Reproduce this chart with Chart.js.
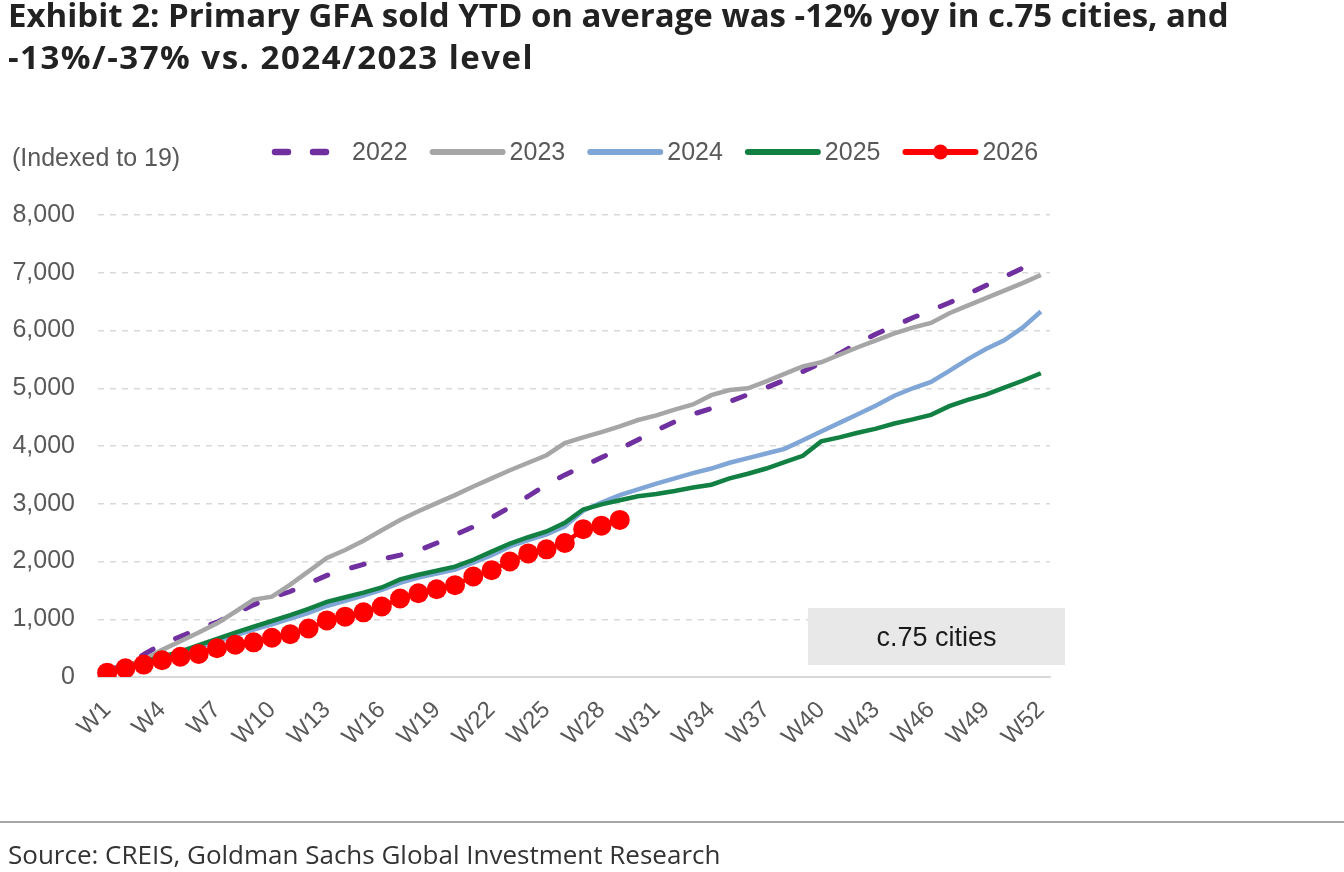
<!DOCTYPE html>
<html>
<head>
<meta charset="utf-8">
<script src="https://cdn.jsdelivr.net/npm/chart.js@4.4.1/dist/chart.umd.min.js"></script>
<style>
  html, body { margin: 0; padding: 0; background: #fff; }
  body { width: 1344px; height: 872px; position: relative; overflow: hidden; }
  #title {
    position: absolute; left: 8px; top: -6px;
    font-family: "Open Sans", sans-serif; font-weight: 700; font-size: 33px;
    line-height: 42px; color: #222; white-space: nowrap;
  }
  #title .l2 { letter-spacing: 1.5px; }
  #rule { position: absolute; left: 0; top: 821px; width: 1344px; height: 2px; background: #a6a6a6; }
  #source {
    position: absolute; left: 8px; top: 836px;
    font-family: "Open Sans", sans-serif; font-size: 26px; color: #333; white-space: nowrap;
  }
  #chart { position: absolute; left: 0; top: 0; }
</style>
</head>
<body>
<canvas id="chart" width="1344" height="872"></canvas>
<div id="title">Exhibit 2: Primary GFA sold YTD on average was -12% yoy in c.75 cities, and<br><span class="l2">-13%/-37% vs. 2024/2023 level</span></div>
<div id="rule"></div>
<div id="source">Source: CREIS, Goldman Sachs Global Investment Research</div>
<script>
// week labels W1..W52
const weeks = Array.from({ length: 52 }, (_, i) => 'W' + (i + 1));
const yTicks = [0, 1000, 2000, 3000, 4000, 5000, 6000, 7000, 8000];

const y2022 = [100, 220, 390, 570, 700, 830, 950, 1100, 1250, 1380, 1480, 1620, 1760, 1860, 1950, 2040, 2110, 2190, 2320, 2460,
  2600, 2760, 2940, 3130, 3330, 3500, 3650, 3800, 3950, 4110, 4270, 4420, 4550, 4650, 4770, 4890, 5010, 5140, 5290, 5440,
  5600, 5780, 5940, 6080, 6220, 6350, 6480, 6630, 6780, 6930, 7080, 7200];
const y2023 = [90, 180, 300, 470, 620, 770, 930, 1130, 1340, 1390, 1600, 1830, 2060, 2200, 2360, 2540, 2720, 2870, 3010, 3150,
  3300, 3440, 3580, 3710, 3840, 4050, 4150, 4240, 4340, 4450, 4530, 4630, 4720, 4880, 4970, 5000, 5120, 5250, 5380, 5450,
  5580, 5710, 5830, 5950, 6050, 6130, 6300, 6430, 6560, 6690, 6820, 6960];
const y2024 = [80, 160, 250, 340, 420, 510, 620, 720, 820, 910, 1010, 1110, 1230, 1320, 1410, 1510, 1630, 1720, 1790, 1860,
  1980, 2110, 2260, 2370, 2470, 2610, 2880, 3020, 3150, 3250, 3350, 3440, 3530, 3610, 3710, 3790, 3870, 3950, 4100, 4250,
  4400, 4550, 4700, 4870, 5000, 5110, 5300, 5500, 5680, 5830, 6050, 6330];
const y2025 = [85, 170, 260, 350, 440, 550, 660, 770, 870, 970, 1070, 1180, 1300, 1380, 1460, 1550, 1690, 1770, 1840, 1910,
  2030, 2170, 2310, 2420, 2520, 2670, 2900, 2990, 3060, 3130, 3170, 3220, 3280, 3330, 3440, 3520, 3610, 3720, 3830, 4080,
  4150, 4230, 4300, 4390, 4460, 4540, 4690, 4800, 4890, 5010, 5130, 5260];
const y2026 = [75, 150, 215, 290, 350, 400, 500, 560, 600, 680, 740, 840, 980, 1045, 1120, 1220, 1360, 1450, 1520, 1590,
  1740, 1850, 2000, 2140, 2210, 2320, 2560, 2620, 2720];

const axisFont = { family: 'Liberation Sans, Arial, sans-serif', size: 25 };
const textGrey = '#595959';

// legend + unit label drawn on canvas so the 2026 entry can show the dot
const legendPlugin = {
    id: 'customLegend',
    afterDraw(chart) {
        const ctx = chart.ctx;
        const y = 152;
        ctx.save();
        ctx.font = '25px Liberation Sans, Arial, sans-serif';
        ctx.fillStyle = textGrey;
        ctx.textBaseline = 'middle';
        ctx.textAlign = 'left';
        ctx.fillText('(Indexed to 19)', 12, y + 7);

        let x = 272;
        chart.data.datasets.slice().sort((a, b) => b.order - a.order).forEach(ds => {
            ctx.save();
            ctx.strokeStyle = ds.borderColor;
            ctx.lineWidth = ds.borderWidth + 1.5;
            ctx.lineCap = 'round';
            ctx.setLineDash(ds.borderDash || []);
            ctx.beginPath();
            ctx.moveTo(x + 3, y);
            ctx.lineTo(x + 73, y);
            ctx.stroke();
            if (ds.pointRadius > 0) {
                ctx.fillStyle = ds.pointBackgroundColor;
                ctx.beginPath();
                ctx.arc(x + 38, y, 7.5, 0, Math.PI * 2);
                ctx.fill();
            }
            ctx.restore();
            ctx.fillText(ds.label, x + 80, y + 1);
            x += 80 + ctx.measureText(ds.label).width + 22;
        });
        ctx.restore();
    }
};

// grey "c.75 cities" tag in the lower right of the plot
const tagPlugin = {
    id: 'cityTag',
    beforeDatasetsDraw(chart) {
        const { ctx, chartArea } = chart;
        const x0 = chartArea.right - 242, x1 = chartArea.right + 15;
        const y0 = chartArea.bottom - 69, y1 = chartArea.bottom - 12;
        ctx.save();
        ctx.fillStyle = '#e8e8e8';
        ctx.fillRect(x0, y0, x1 - x0, y1 - y0);
        ctx.fillStyle = '#1a1a1a';
        ctx.font = '27px Liberation Sans, Arial, sans-serif';
        ctx.textAlign = 'center';
        ctx.textBaseline = 'middle';
        ctx.fillText('c.75 cities', (x0 + x1) / 2, (y0 + y1) / 2 + 2);
        ctx.restore();
    }
};

const lineSet = (label, data, color, order, extra) => Object.assign({
    label: label,
    data: data,
    borderColor: color,
    backgroundColor: color,
    borderWidth: 4.5,
    pointRadius: 0,
    tension: 0,
    fill: false,
    order: order
}, extra || {});

new Chart(document.getElementById('chart').getContext('2d'), {
    type: 'line',
    data: {
        labels: weeks,
        datasets: [
            lineSet('2022', y2022, '#7030a0', 5, { borderWidth: 5, borderDash: [13, 25], borderCapStyle: 'round' }),
            lineSet('2023', y2023, '#a6a6a6', 4),
            lineSet('2024', y2024, '#7fa6d6', 3),
            lineSet('2025', y2025, '#138043', 2),
            lineSet('2026', y2026, '#ff0000', 1, { pointRadius: 10, pointBackgroundColor: '#ff0000', pointBorderWidth: 0, pointHoverRadius: 10 })
        ]
    },
    options: {
        responsive: false,
        animation: false,
        devicePixelRatio: 1,
        layout: { padding: { left: 0, right: 294, top: 215, bottom: 95 } },
        plugins: { legend: { display: false }, tooltip: { enabled: false } },
        scales: {
            x: {
                offset: true,
                afterFit: s => { s.height = 100; },
                grid: { display: false, drawTicks: false },
                border: { display: true, color: '#d9d9d9', width: 2 },
                ticks: {
                    autoSkip: false,
                    minRotation: 45,
                    maxRotation: 45,
                    padding: 19,
                    color: textGrey,
                    font: { family: axisFont.family, size: 24 },
                    callback: (v, i) => (i % 3 === 0 ? weeks[i] : '')
                }
            },
            y: {
                min: yTicks[0],
                max: yTicks[yTicks.length - 1],
                afterFit: s => { s.width = 98; },
                afterBuildTicks: s => { s.ticks = yTicks.map(v => ({ value: v })); },
                grid: { color: '#d9d9d9', lineWidth: 1.5, drawTicks: false },
                border: { display: false, dash: [6, 6] },
                ticks: {
                    padding: 23,
                    color: textGrey,
                    font: axisFont,
                    callback: v => v.toLocaleString('en-US')
                }
            }
        }
    },
    plugins: [tagPlugin, legendPlugin]
});
</script>
</body>
</html>
